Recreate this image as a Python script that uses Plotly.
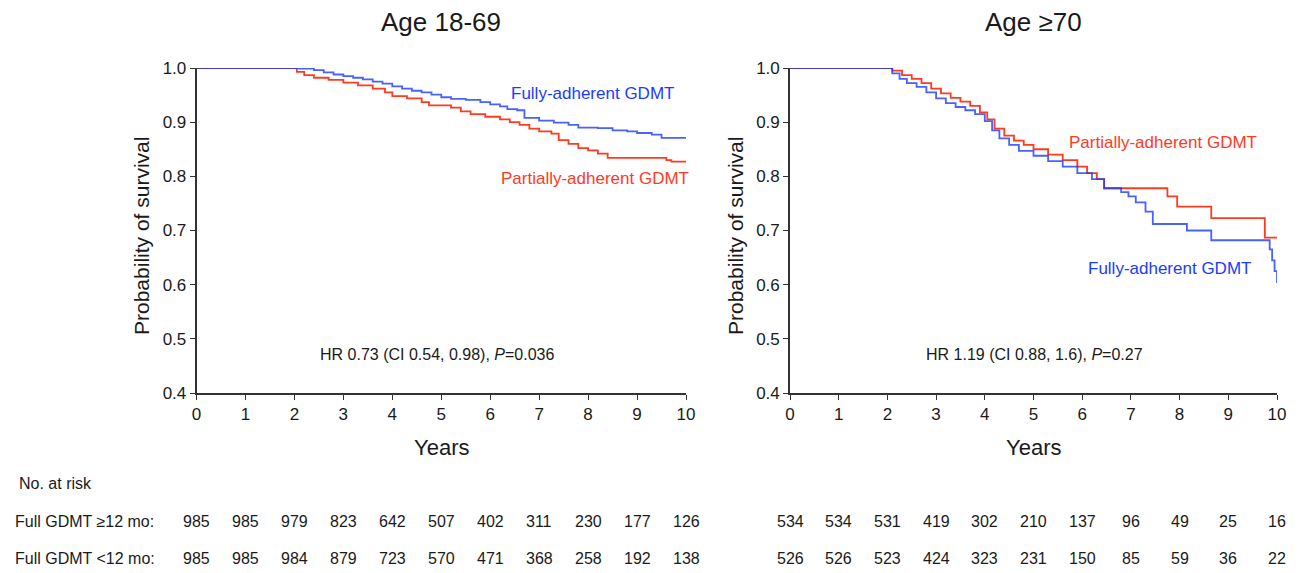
import plotly.graph_objects as go

# ---- data ----
years_ticks = list(range(0, 11))

# Age 18-69
left_full_x = [0, 2.0, 2.1, 2.4, 2.6, 2.8, 3.0, 3.2, 3.4, 3.6,
               3.8, 4.0, 4.2, 4.4, 4.6, 4.8, 5.0, 5.2, 5.5, 5.8,
               6.0, 6.2, 6.35, 6.55, 6.7, 7.0, 7.3, 7.6, 7.8, 8.2,
               8.5, 8.8, 9.0, 9.3, 9.5, 10.0]
left_full_y = [1.0, 1.0, 0.999, 0.996, 0.992, 0.988, 0.985, 0.982, 0.979, 0.975,
               0.971, 0.966, 0.962, 0.958, 0.955, 0.951, 0.946, 0.943, 0.941, 0.937,
               0.933, 0.929, 0.924, 0.922, 0.908, 0.903, 0.899, 0.895, 0.890, 0.889,
               0.885, 0.883, 0.880, 0.877, 0.871, 0.870]
left_part_x = [0, 2.0, 2.05, 2.2, 2.4, 2.7, 3.0, 3.3, 3.6, 3.85,
               4.0, 4.3, 4.6, 4.75, 5.2, 5.4, 5.6, 5.9, 6.2, 6.4,
               6.6, 6.8, 7.0, 7.25, 7.4, 7.6, 7.8, 8.0, 8.2, 8.4,
               9.6, 9.7, 10.0]
left_part_y = [1.0, 1.0, 0.993, 0.987, 0.982, 0.978, 0.973, 0.968, 0.962, 0.955,
               0.948, 0.944, 0.937, 0.931, 0.927, 0.920, 0.915, 0.910, 0.905, 0.900,
               0.895, 0.888, 0.883, 0.879, 0.867, 0.860, 0.852, 0.848, 0.842, 0.834,
               0.830, 0.827, 0.827]

# Age >=70
right_full_x = [0, 2.0, 2.1, 2.25, 2.4, 2.6, 2.8, 3.0, 3.2, 3.4,
                3.6, 3.8, 4.0, 4.15, 4.3, 4.5, 4.7, 5.0, 5.3, 5.6,
                5.9, 6.2, 6.45, 6.8, 6.95, 7.1, 7.3, 7.45, 7.85, 8.15,
                8.55, 8.65, 9.75, 9.85, 9.9, 9.95, 10.0]
right_full_y = [1.0, 1.0, 0.990, 0.980, 0.972, 0.965, 0.955, 0.944, 0.935, 0.928,
                0.922, 0.915, 0.902, 0.885, 0.870, 0.858, 0.847, 0.838, 0.828, 0.818,
                0.806, 0.795, 0.778, 0.771, 0.763, 0.752, 0.735, 0.712, 0.712, 0.700,
                0.700, 0.682, 0.682, 0.665, 0.645, 0.625, 0.603]
right_part_x = [0, 2.0, 2.1, 2.3, 2.5, 2.7, 2.9, 3.1, 3.3, 3.5,
                3.7, 3.9, 4.05, 4.2, 4.4, 4.6, 4.8, 5.0, 5.3, 5.6,
                5.9, 6.1, 6.3, 6.45, 7.65, 7.75, 7.95, 8.55, 8.65, 9.65,
                9.75, 10.0]
right_part_y = [1.0, 1.0, 0.995, 0.987, 0.980, 0.972, 0.962, 0.953, 0.945, 0.938,
                0.930, 0.918, 0.905, 0.888, 0.875, 0.866, 0.858, 0.850, 0.840, 0.830,
                0.818, 0.806, 0.795, 0.778, 0.778, 0.763, 0.744, 0.744, 0.723, 0.723,
                0.687, 0.687]

risk_left_full = [985, 985, 979, 823, 642, 507, 402, 311, 230, 177, 126]
risk_left_part = [985, 985, 984, 879, 723, 570, 471, 368, 258, 192, 138]
risk_right_full = [534, 534, 531, 419, 302, 210, 137, 96, 49, 25, 16]
risk_right_part = [526, 526, 523, 424, 323, 231, 150, 85, 59, 36, 22]

titles = ["Age 18-69", "Age ≥70"]
hr_texts = ["HR 0.73 (CI 0.54, 0.98), <i>P</i>=0.036", "HR 1.19 (CI 0.88, 1.6), <i>P</i>=0.27"]
row_labels = ["Full GDMT ≥12 mo:", "Full GDMT <12 mo:"]

BLUE = "#1a3cff"
RED = "#ff3b1f"
INK = "#1a1a1a"
FONT = "Liberation Sans, Arial, sans-serif"

W, H = 1303, 573
OFF = 8  # page body offset
def px_x(p): return (p - OFF) / W
def px_y(p): return 1 - (p - OFF) / H

fig = go.Figure()
for xs, ys, col, xa, ya, op in [
    (left_part_x, left_part_y, RED, "x", "y", 1.0),
    (left_full_x, left_full_y, BLUE, "x", "y", 0.8),
    (right_part_x, right_part_y, RED, "x2", "y2", 1.0),
    (right_full_x, right_full_y, BLUE, "x2", "y2", 0.8),
]:
    fig.add_trace(go.Scatter(x=xs, y=ys, mode="lines", line=dict(color=col, width=1.8, shape="hv"),
                             xaxis=xa, yaxis=ya, showlegend=False, opacity=op, hoverinfo="skip"))

ydom = [px_y(393), px_y(68)]
axis_common = dict(showgrid=False, zeroline=False, showline=True, linecolor="#333", linewidth=1.6,
                   ticks="outside", ticklen=5, tickwidth=1.4, tickcolor="#333", automargin=False,
                   tickfont=dict(family=FONT, size=17, color=INK))
fig.update_layout(
    width=W, height=H, margin=dict(l=0, r=0, t=0, b=0, autoexpand=False),
    paper_bgcolor="white", plot_bgcolor="white",
    xaxis=dict(domain=[px_x(196.5), px_x(686)], range=[0, 10], tickvals=years_ticks, anchor="y", **axis_common),
    yaxis=dict(domain=ydom, range=[0.4, 1.0], dtick=0.1, tickformat=".1f", anchor="x", **axis_common),
    xaxis2=dict(domain=[px_x(790), px_x(1277)], range=[0, 10], tickvals=years_ticks, anchor="y2", **axis_common),
    yaxis2=dict(domain=ydom, range=[0.4, 1.0], dtick=0.1, tickformat=".1f", anchor="x2", **axis_common),
)

def note(text, x, y, size, color=INK, xref="paper", xanchor="center", **kw):
    return dict(text=text, x=x, y=y, xref=xref, yref="paper", showarrow=False,
                xanchor=xanchor, yanchor="middle", font=dict(family=FONT, size=size, color=color), **kw)

ann = []
for i, (cx, ytx, hrx) in enumerate([(441, 141, 437), (1033, 735, 1034)]):
    ann.append(note(titles[i], px_x(cx), px_y(22), 26))
    ann.append(note("Years", px_x(cx), px_y(447), 22))
    ann.append(note("Probability of survival", px_x(ytx), px_y(236), 21, textangle=-90))
    ann.append(note(hr_texts[i], px_x(hrx), px_y(354), 16))

ann += [
    note("Fully-adherent GDMT", px_x(592), px_y(93), 17, BLUE),
    note("Partially-adherent GDMT", px_x(595), px_y(178), 17, RED),
    note("Partially-adherent GDMT", px_x(1163), px_y(143), 17, RED),
    note("Fully-adherent GDMT", px_x(1169), px_y(268), 17, BLUE),
]

ann.append(note("No. at risk", px_x(17), px_y(483), 16, xanchor="left"))
for j, lab in enumerate(row_labels):
    ann.append(note(lab, px_x(13), px_y(521 + 37 * j), 16, xanchor="left"))

for xr, rows in [("x", [risk_left_full, risk_left_part]), ("x2", [risk_right_full, risk_right_part])]:
    for j, row in enumerate(rows):
        for k, v in enumerate(row):
            ann.append(note(str(v), years_ticks[k], px_y(521 + 37 * j), 16, xref=xr))

fig.update_layout(annotations=ann)
fig.write_html("out.html")
